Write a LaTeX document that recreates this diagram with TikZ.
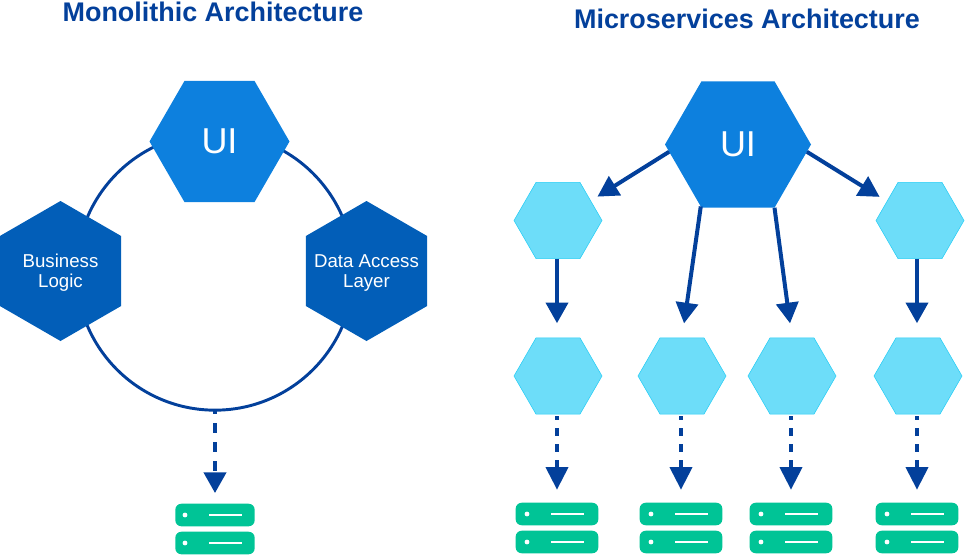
\documentclass[tikz,border=0pt]{standalone}
\usepackage{fontspec}
\setmainfont{Liberation Sans}
\usetikzlibrary{shapes.geometric,arrows.meta}
\definecolor{navy}{HTML}{03409B}
\definecolor{uiblue}{HTML}{0D80DE}
\definecolor{midblue}{HTML}{025EB8}
\definecolor{lightblue}{HTML}{6DDDF9}
\definecolor{lightedge}{HTML}{25CDF5}
\definecolor{srvgreen}{HTML}{00C496}
\tikzset{
  x=0.75pt,y=-0.75pt,
  hexbase/.style={shape=regular polygon,regular polygon sides=6,inner sep=0pt,outer sep=0pt,text=white},
  uimono/.style={hexbase,fill=uiblue,minimum size=105pt,font=\fontsize{27}{27}\selectfont},
  uimicro/.style={hexbase,fill=uiblue,minimum size=109.5pt,font=\fontsize{27}{27}\selectfont},
  layer/.style={hexbase,fill=midblue,minimum size=105pt,shape border rotate=30,font=\fontsize{14}{15}\selectfont},
  svc/.style={hexbase,draw=lightedge,line width=0.4pt,fill=lightblue,minimum size=66pt},
  pill/.style={shape=rectangle,rounded corners=4.5pt,fill=srvgreen,inner sep=0pt,outer sep=0pt,minimum height=16.9pt},
  bar/.style={shape=rectangle,fill=white,inner sep=0pt,minimum width=25pt,minimum height=1.9pt},
  dot/.style={shape=circle,fill=white,inner sep=0pt,minimum size=3.6pt},
  heading/.style={text=navy,inner sep=0pt,font=\bfseries\fontsize{20.2}{22}\selectfont},
  ring/.style={shape=circle,draw=navy,line width=2.2pt,minimum size=208pt,inner sep=0pt,outer sep=0pt},
  flow/.style={draw=navy,line width=3pt,-{Triangle[width=16.5pt,length=15.5pt]}},
  store/.style={flow,dash pattern=on 7.5pt off 6.75pt,dash phase=4.5pt},
  microstore/.style={draw=navy,line width=3pt,-{Triangle[width=16.5pt,length=17pt]},dash pattern=on 6.25pt off 5.75pt,dash phase=3pt,shorten <=1.5pt,shorten >=9.75pt},
}
\newcommand{\hextext}[2]{\makebox[0pt]{\smash{\raisebox{-5.3pt}{\begin{tabular}{@{}c@{}}#1\\#2\end{tabular}}}}}
\newcommand{\srv}[4]{%
  \node[pill,minimum width=#4pt] (#1a) at (#2,#3) {};
  \node[dot] (#1ad) at (#2-30,#3) {};
  \node[bar] (#1ab) at (#2+10.5,#3) {};
  \node[pill,minimum width=#4pt] (#1b) at (#2,#3+28) {};
  \node[dot] (#1bd) at (#2-30,#3+28) {};
  \node[bar] (#1bb) at (#2+10.5,#3+28) {};
}
\begin{document}
\begin{tikzpicture}
\useasboundingbox (0,0) rectangle (965,554);
\node[heading] (t1) at (213,12) {Monolithic Architecture};
\node[heading] (t2) at (747,19) {Microservices Architecture};
% monolith
\node[ring] (ring) at (215,271.5) {};
\node[uimono] (ui1) at (219.5,141.5) {UI};
\node[layer] (bl) at (60.5,271) {\hextext{Business}{Logic}};
\node[layer] (da) at (366.5,271) {\hextext{Data Access}{Layer}};
\srv{s0}{215}{515}{59.5}
\draw[store,shorten >=8pt] (ring.south) -- (s0a.north);
% micro
\node[uimicro] (ui2) at (738,144.5) {UI};
\node[svc] (h1) at (558,220.5) {};
\node[svc] (h2) at (920,220.5) {};
\node[svc] (h3) at (558,376) {};
\node[svc] (h4) at (682,376) {};
\node[svc] (h5) at (792,376) {};
\node[svc] (h6) at (918,376) {};
\srv{s1}{557}{514}{62}
\srv{s2}{681}{514}{62}
\srv{s3}{791}{514}{62}
\srv{s4}{917}{514}{62}
\draw[flow,shorten >=6pt] (ui2.186.5) -- (h1.31);
\draw[flow,shorten >=6.5pt] (ui2.354.3) -- (h2.150);
\draw[flow,shorten >=11pt] (ui2.239.6) -- (h4.north);
\draw[flow,shorten >=11pt] (ui2.300.4) -- (h5.north);
\draw[flow,shorten >=11pt] (s1a.north |- h1.south) -- (s1a.north |- h3.north);
\draw[flow,shorten >=11pt] (s4a.north |- h2.south) -- (s4a.north |- h6.north);
\draw[microstore] (s1a.north |- h3.south) -- (s1a.north);
\draw[microstore] (s2a.north |- h4.south) -- (s2a.north);
\draw[microstore] (s3a.north |- h5.south) -- (s3a.north);
\draw[microstore] (s4a.north |- h6.south) -- (s4a.north);
\end{tikzpicture}
\end{document}
